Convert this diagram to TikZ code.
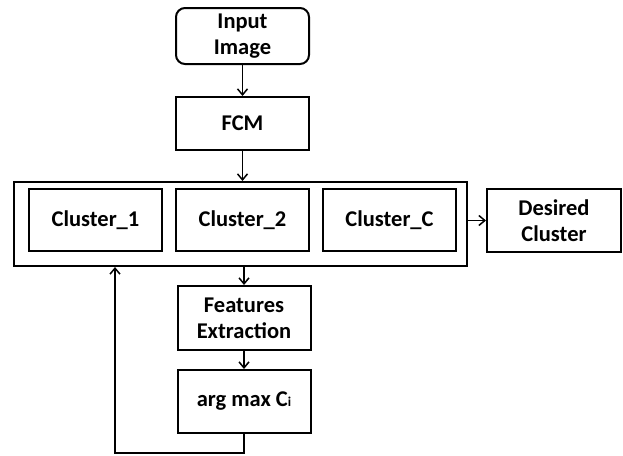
\documentclass[tikz,border=0pt]{standalone}
\usepackage{fontspec}
\setmainfont{Carlito}
\usetikzlibrary{arrows.meta}
\begin{document}
\begin{tikzpicture}[x=1pt,y=-1pt,
  box/.style={draw,line width=2pt,minimum width=133pt,minimum height=62pt,align=center,inner sep=0pt,
    font=\fontsize{22.5}{26}\selectfont\bfseries},
  conn/.style={line width=1.6pt,-{Straight Barb[length=6pt,width=10pt,line width=1.5pt]}}]
\useasboundingbox (0,0) rectangle (623,455);
\node[box,rounded corners=9pt,minimum height=56pt] (in) at (242.5,36) {Input\\Image};
\node[box,minimum height=53pt] (fcm) at (242.5,123.5) {FCM};
\node[draw,line width=2pt,minimum width=453pt,minimum height=84pt,inner sep=0pt] (outer) at (240.5,224) {};
\node[box] (c1) at (95.5,220) {Cluster\_1};
\node[box] (c2) at (242.5,220) {Cluster\_2};
\node[box] (cc) at (389.5,220) {Cluster\_C};
\node[box,minimum width=134pt,minimum height=63pt] (des) at (554,220.5) {Desired\\Cluster};
\node[box,minimum height=64pt] (feat) at (244,318) {Features\\Extraction};
\node[box,minimum height=63pt] (argm) at (244,401.5) {arg max C{\fontsize{13.5}{13.5}\selectfont i}};
\coordinate (b1) at (244,453);
\coordinate (b2) at (115,453);
\draw[conn] (in) -- (fcm);
\draw[conn] (fcm.south) -- (fcm.south |- outer.north);
\draw[conn] (outer.east |- des.west) -- (des.west);
\draw[conn] (feat.north |- outer.south) -- (feat.north);
\draw[conn] (feat) -- (argm);
\draw[conn] (argm.south) -- (b1) -- (b2) -- (b2 |- outer.south);
\end{tikzpicture}
\end{document}
